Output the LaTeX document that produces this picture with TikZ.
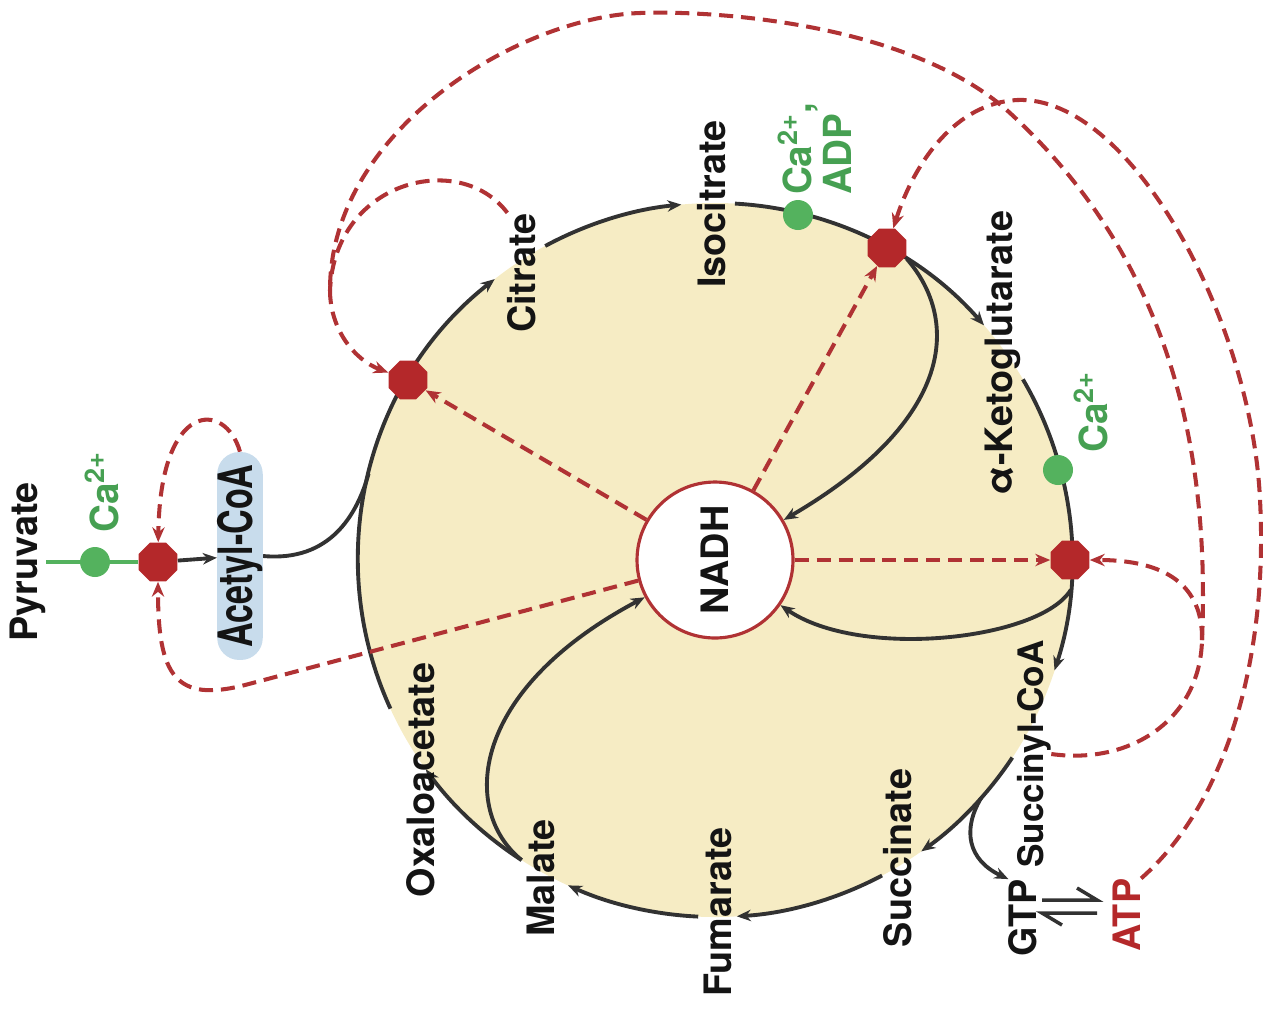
\documentclass[tikz,border=0pt]{standalone}
\usepackage{fontspec}
\setmainfont{TeX Gyre Heros}
\newfontfamily\condfont[FakeStretch=0.72]{TeX Gyre Heros}
\usetikzlibrary{arrows.meta,shapes.geometric}
\pgfdeclarelayer{bg}
\pgfsetlayers{bg,main}
\definecolor{cyclefill}{RGB}{246,236,196}
\definecolor{darkline}{RGB}{50,50,50}
\definecolor{inhred}{RGB}{180,40,42}
\definecolor{dashred}{RGB}{176,50,52}
\definecolor{actgreen}{RGB}{84,178,94}
\definecolor{greentext}{RGB}{70,160,82}
\definecolor{acetylblue}{RGB}{200,220,236}
\definecolor{labelblack}{RGB}{20,20,20}
\tikzset{
  lbl/.style={rotate=90, inner sep=0pt, text=labelblack, font=\fontsize{21.5}{24}\selectfont\bfseries},
  glbl/.style={rotate=90, inner sep=0pt, text=greentext, font=\fontsize{22}{23}\selectfont\bfseries},
  inhib/.style={regular polygon, regular polygon sides=8, fill=inhred, minimum size=0.84cm, inner sep=0pt},
  actdot/.style={circle, fill=actgreen, minimum size=0.6cm, inner sep=0pt},
  nadhcirc/.style={circle, draw=dashred, line width=1.8pt, fill=white, minimum size=3.12cm, inner sep=0pt},
  cyc/.style={draw=darkline, line width=2.2pt, -{Stealth[length=8pt,width=6.5pt]}},
  cycplain/.style={draw=darkline, line width=2.2pt},
  fb/.style={draw=dashred, line width=2.3pt, dash pattern=on 8pt off 4.5pt, -{Stealth[length=8.5pt,width=7pt]}},
  fbplain/.style={draw=dashred, line width=2.3pt, dash pattern=on 8pt off 4.5pt},
  greenline/.style={draw=actgreen, line width=2.4pt},
}
\begin{document}
\begin{tikzpicture}[x=0.02cm, y=-0.02cm]
\useasboundingbox (0,0) rectangle (1263,1012);
\coordinate (C) at (715,560);

% ---------- nodes ----------
\node[lbl] (pyr) at (28,562) {Pyruvate};
\node[glbl] (capyr) at (102,492) {Ca\textsuperscript{2+}};
\node[actdot] (dpyr) at (95,562) {};
\node[inhib] (oct0) at (158,562) {};
\node[rotate=90, fill=acetylblue, rounded corners=0.44cm, minimum width=4.16cm, minimum height=0.88cm, inner sep=0pt,
      text=labelblack, font=\condfont\fontsize{27}{28}\selectfont\bfseries] (acoa) at (240,556) {Acetyl-CoA};

\node[lbl] (cit) at (522,273) {Citrate};
\node[lbl] (iso) at (712,204) {Isocitrate};
\node[glbl, align=left] (caadp) at (815,149) {Ca\textsuperscript{2+},\\ADP};
\node[actdot] (d2) at (798,215) {};
\node[inhib] (oct2) at (887,248) {};
\node[lbl] (akg) at (1003,353) {α-Ketoglutarate};
\node[glbl] (caakg) at (1091,412) {Ca\textsuperscript{2+}};
\node[actdot] (d3) at (1058,470) {};
\node[inhib] (oct3) at (1070,560) {};
\node[lbl, font=\fontsize{20}{22}\selectfont\bfseries] (scoa) at (1034,754) {Succinyl-CoA};
\node[lbl] (gtp) at (1023,918) {GTP};
\node[lbl, text=inhred] (atp) at (1127,915) {ATP};
\node[lbl] (succ) at (898,858) {Succinate};
\node[lbl] (fum) at (718,912) {Fumarate};
\node[lbl] (mal) at (541,878) {Malate};
\node[lbl] (oaa) at (421,780) {Oxaloacetate};
\node[inhib] (oct1) at (408,380) {};
\node[nadhcirc] (nadh) at (C) {};
\node[lbl] (nadhtxt) at (C) {NADH};

% junction / branch coordinates
\coordinate (b2) at ([shift={(302.5:357)}]C);
\coordinate (b3) at ([shift={(4.8:357)}]C);
\coordinate (b8) at ([shift={(122.8:357)}]C);
\coordinate (gbr) at ([shift={(41.8:357)}]C);
\coordinate (join) at ([shift={(194:357)}]C);
\coordinate (M) at (330,290);
\coordinate (J) at (1202,640);
\coordinate (k4) at (245,685);

\begin{pgfonlayer}{bg}
\fill[cyclefill] (C) circle[radius=357];

% cycle arcs
\draw[cyc] ([shift={(155.4:357)}]C) arc[start angle=155.4, end angle=231.9, radius=357];
\draw[cyc] ([shift={(241.6:357)}]C) arc[start angle=241.6, end angle=264.6, radius=357];
\draw[cyc] ([shift={(273.2:357)}]C) arc[start angle=273.2, end angle=318.9, radius=357];
\draw[cyc] ([shift={(329.6:357)}]C) arc[start angle=329.6, end angle=378, radius=357];
\draw[cyc] ([shift={(33.6:357)}]C) arc[start angle=33.6, end angle=54.7, radius=357];
\draw[cyc] ([shift={(62.1:357)}]C) arc[start angle=62.1, end angle=86.5, radius=357];
\draw[cyc] ([shift={(92.7:357)}]C) arc[start angle=92.7, end angle=114.3, radius=357];
\draw[cyc] ([shift={(122.8:357)}]C) arc[start angle=122.8, end angle=144.1, radius=357];

% acetyl-CoA entry
\draw[greenline] (pyr) -- (oct0);
\draw[cyc] (oct0) -- (acoa);
\draw[cycplain] (acoa.south) .. controls (330,562) and (357,515) .. (join);

% NADH producing branches
\draw[cyc] (b2) .. controls (960,320) and (955,420) .. (nadh);
\draw[cyc] (b3) .. controls (1040,640) and (860,660) .. (nadh);
\draw[cyc] (b8) .. controls (460,810) and (470,690) .. (nadh);
\draw[cyc] (gbr) .. controls (962,830) and (968,860) .. (gtp.north east);

% GTP <=> ATP
\draw[darkline, line width=2pt] (1042,900) -- (1097,900) -- (1077,888);
\draw[darkline, line width=2pt] (1097,913) -- (1042,913) -- (1062,925);

% feedback (dashed)
\draw[fb] (nadh) -- (oct1);
\draw[fb] (nadh) -- (oct2);
\draw[fb] (nadh) -- (oct3);
\draw[fb] (nadh.195) -- (k4) .. controls (175,703) and (158,675) .. (oct0);
\draw[fb] (acoa.east) .. controls (225,400) and (160,400) .. (oct0);
\draw[fbplain] (cit.north east) .. controls (460,150) and (335,180) .. (M);
\draw[fbplain] (scoa.south) .. controls (1130,765) and (1200,720) .. (J);
\draw[fb] (J) .. controls (1203,585) and (1165,560) .. (oct3);
\draw[fbplain] (J) .. controls (1210,450) and (1170,260) .. (1010,113)
   .. controls (914,25) and (720,10) .. (640,13)
   .. controls (520,17) and (330,130) .. (M);
\draw[fb] (M) .. controls (330,330) and (355,360) .. (oct1);
\draw[fb] (atp.south east) .. controls (1230,800) and (1268,650) .. (1260,500)
   .. controls (1252,320) and (1130,95) .. (1017,100)
   .. controls (957,103) and (915,160) .. (oct2);
\end{pgfonlayer}
\end{tikzpicture}
\end{document}
